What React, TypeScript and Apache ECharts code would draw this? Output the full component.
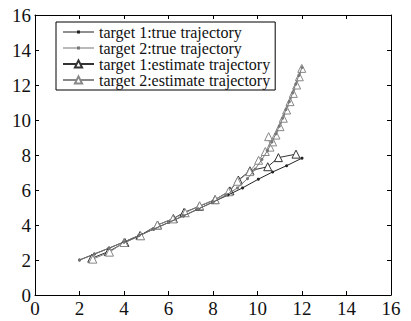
import React, { useEffect, useRef } from "react";
import * as echarts from "echarts";

const t1TrueX = [2, 2.67, 3.33, 4.0, 4.67, 5.33, 6.0, 6.67, 7.33, 8.0, 8.67, 9.33, 10.04, 10.68, 11.31, 12.0];
const t1TrueY = [2.0, 2.34, 2.68, 3.03, 3.4, 3.76, 4.14, 4.52, 4.91, 5.31, 5.71, 6.12, 6.62, 7.03, 7.39, 7.82];

const t2TrueX = [2, 2.67, 3.33, 4.0, 4.67, 5.33, 6.0, 6.67, 7.33, 8.0, 8.6, 9.1, 9.55, 9.9, 10.2, 10.45, 10.65, 10.82, 10.98, 11.13, 11.28, 11.43, 11.58, 11.72, 11.86, 12.0];
const t2TrueY = [2.0, 2.34, 2.68, 3.03, 3.4, 3.76, 4.14, 4.52, 4.91, 5.31, 5.72, 6.12, 6.65, 7.2, 7.75, 8.25, 8.75, 9.2, 9.65, 10.1, 10.6, 11.05, 11.55, 12.05, 12.55, 13.0];

const t1EstX = [2.55, 3.3, 4.04, 4.72, 5.51, 6.22, 6.7, 7.39, 8.09, 8.76, 9.14, 9.66, 10.46, 10.94, 11.73];
const t1EstY = [2.1, 2.48, 3.0, 3.4, 4.0, 4.37, 4.72, 5.07, 5.45, 5.95, 6.57, 7.1, 7.33, 7.85, 8.05];

const t2EstX = [2.6, 3.35, 4.0, 4.75, 5.5, 6.2, 6.75, 7.4, 8.1, 8.7, 9.1, 9.65, 10.05, 10.35, 10.56, 10.5, 10.68, 10.83, 11.01, 11.16, 11.31, 11.46, 11.61, 11.76, 11.88, 11.99];
const t2EstY = [2.05, 2.45, 3.0, 3.38, 4.0, 4.35, 4.7, 5.1, 5.45, 5.9, 6.5, 7.05, 7.7, 8.2, 8.45, 9.05, 8.75, 9.14, 9.62, 10.1, 10.57, 11.05, 11.52, 12.0, 12.47, 12.95];

const seriesNames = [
  "target 1:true trajectory",
  "target 2:true trajectory",
  "target 1:estimate trajectory",
  "target 2:estimate trajectory",
];

const zip = (xs: number[], ys: number[]) => xs.map((x, i) => [x, ys[i]]);

const FONT = "'Times New Roman', 'Liberation Serif', serif";
const DOT_ICON = "path://M0,4.5L31,4.5L31,5.3L0,5.3ZM14,3.4L17,3.4L17,6.4L14,6.4Z";

export default function App() {
  const ref = useRef<HTMLDivElement>(null);
  useEffect(() => {
    document.body.style.margin = "0";
    const chart = echarts.init(ref.current!, null, { renderer: "svg" });
    const axisCommon = {
      type: "value" as const,
      min: 0,
      max: 16,
      interval: 2,
      splitLine: { show: false },
      axisLine: { show: true, onZero: false, lineStyle: { color: "#000", width: 1 } },
      axisTick: { show: true, inside: true, length: 4, lineStyle: { color: "#000" } },
    };
    chart.setOption({
      animation: false,
      backgroundColor: "#fff",
      textStyle: { fontFamily: FONT },
      grid: { left: 35, right: 20, top: 15, bottom: 26, containLabel: false },
      legend: {
        orient: "vertical",
        left: 56,
        top: 22,
        padding: [2, 5, 2, 6],
        itemGap: 0,
        itemWidth: 31,
        itemHeight: 9,
        borderColor: "#000",
        borderWidth: 1,
        backgroundColor: "#fff",
        textStyle: { fontFamily: FONT, fontSize: 16, color: "#111", lineHeight: 13.5 },
        data: [
          { name: seriesNames[0], icon: DOT_ICON },
          { name: seriesNames[1], icon: DOT_ICON },
          { name: seriesNames[2] },
          { name: seriesNames[3] },
        ],
      },
      xAxis: [
        {
          ...axisCommon,
          position: "bottom",
          axisLabel: { fontFamily: FONT, fontSize: 19, color: "#111", margin: 4 },
        },
        {
          ...axisCommon,
          position: "top",
          axisLabel: { show: false },
        },
      ],
      yAxis: [
        {
          ...axisCommon,
          position: "left",
          axisLabel: { fontFamily: FONT, fontSize: 19, color: "#111", margin: 4 },
        },
        {
          ...axisCommon,
          position: "right",
          axisLabel: { show: false },
        },
      ],
      series: [
        {
          name: seriesNames[0],
          type: "line",
          data: zip(t1TrueX, t1TrueY),
          symbol: "circle",
          symbolSize: 3,
          itemStyle: { color: "#222" },
          lineStyle: { color: "#222", width: 1 },
          z: 3,
        },
        {
          name: seriesNames[1],
          type: "line",
          data: zip(t2TrueX, t2TrueY),
          symbol: "circle",
          symbolSize: 3,
          itemStyle: { color: "#777" },
          lineStyle: { color: "#777", width: 1 },
          z: 3,
        },
        {
          name: seriesNames[2],
          type: "line",
          data: zip(t1EstX, t1EstY),
          symbol: "triangle",
          symbolSize: 8,
          itemStyle: { color: "#fff", borderColor: "#333", borderWidth: 1 },
          lineStyle: { color: "#333", width: 1 },
          z: 2,
        },
        {
          name: seriesNames[3],
          type: "line",
          data: zip(t2EstX, t2EstY),
          symbol: "triangle",
          symbolSize: 8,
          itemStyle: { color: "#fff", borderColor: "#888", borderWidth: 1 },
          lineStyle: { color: "#888", width: 1 },
          z: 2,
        },
      ],
    });
    return () => chart.dispose();
  }, []);
  return <div ref={ref} style={{ width: 411, height: 321 }} />;
}
